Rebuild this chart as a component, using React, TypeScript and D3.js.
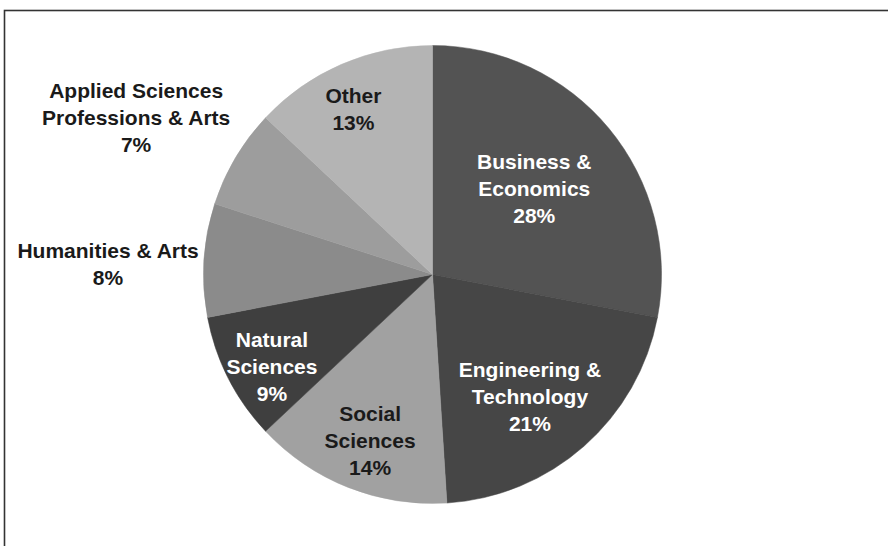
import React from "react";
import * as d3 from "d3";

const categories = [
  ["Business &", "Economics"],
  ["Engineering &", "Technology"],
  ["Social", "Sciences"],
  ["Natural", "Sciences"],
  ["Humanities & Arts"],
  ["Applied Sciences", "Professions & Arts"],
  ["Other"],
];
const values = [28, 21, 14, 9, 8, 7, 13];
const percentLabels = ["28%", "21%", "14%", "9%", "8%", "7%", "13%"];

// styling / layout (not data)
const fills = ["#535353", "#464646", "#a1a1a1", "#3f3f3f", "#8b8b8b", "#9d9d9d", "#b4b4b4"];
const textFills = ["#ffffff", "#ffffff", "#1a1a1a", "#ffffff", "#1a1a1a", "#1a1a1a", "#1a1a1a"];
// label placement: [angle in degrees clockwise from top, radius factor]
const labelPolar: [number, number][] = [
  [52.5, 0.56],
  [143, 0.707],
  [199.8, 0.805],
  [238.2, 0.825],
  [270.5, 1.417],
  [296.8, 1.45],
  [333.4, 0.771],
];

const W = 888;
const H = 546;
const cx = 432.5;
const cy = 274.5;
const R = 229;
const lineH = 27;

export default function App() {
  const pie = d3.pie<number>().sort(null).value((d) => d)(values);
  const arc = d3.arc<d3.PieArcDatum<number>>().innerRadius(0).outerRadius(R);

  return (
    <svg
      width={W}
      height={H}
      style={{ position: "absolute", left: 0, top: 0, background: "#fff" }}
      fontFamily="'Liberation Sans', Arial, Helvetica, sans-serif"
    >
      <rect x={4.5} y={10.5} width={W + 20} height={H + 20} fill="#fff" stroke="#333" strokeWidth={1.6} />
      <g transform={`translate(${cx},${cy})`}>
        {pie.map((p, i) => (
          <path key={i} d={arc(p) || ""} fill={fills[i]} stroke={fills[i]} strokeWidth={0.5} />
        ))}
        {pie.map((p, i) => {
          const [deg, f] = labelPolar[i];
          const a = (deg * Math.PI) / 180;
          const x = R * f * Math.sin(a);
          const y = -R * f * Math.cos(a);
          const lines = [...categories[i], percentLabels[i]];
          const n = lines.length;
          return (
            <text
              key={"t" + i}
              x={x}
              y={y}
              textAnchor="middle"
              fontSize={21}
              fontWeight="bold"
              fill={textFills[i]}
            >
              {lines.map((l, j) => (
                <tspan key={j} x={x} y={y + (j - (n - 1) / 2) * lineH}>
                  {l}
                </tspan>
              ))}
            </text>
          );
        })}
      </g>
    </svg>
  );
}
